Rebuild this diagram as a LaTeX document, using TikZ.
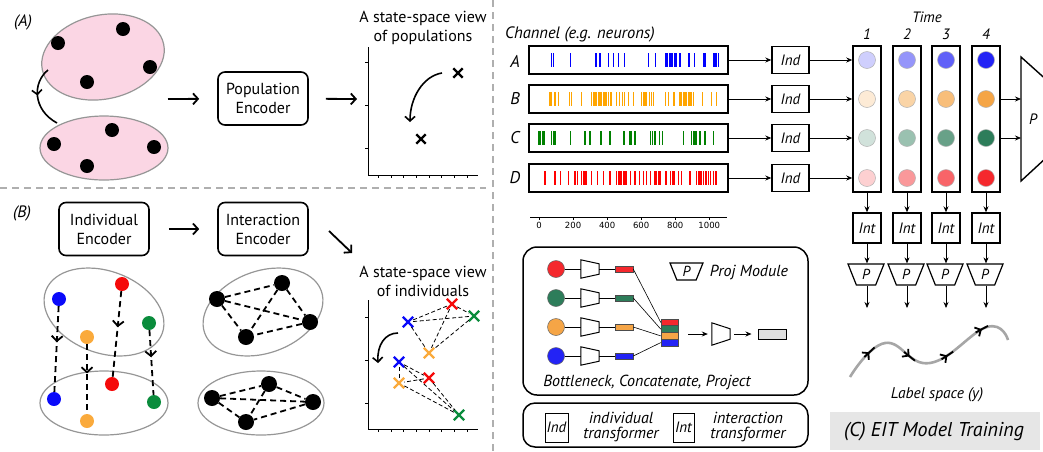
\documentclass[tikz,border=0pt]{standalone}
\usepackage{fontspec}
\setmainfont{PT Sans}
\newfontfamily\plotfont{DejaVu Sans}
\usetikzlibrary{arrows.meta,shapes.geometric,shapes.misc,decorations.markings}

\definecolor{popfill}{RGB}{251,214,228}
\definecolor{rimgray}{RGB}{150,150,150}
\definecolor{sepgray}{RGB}{175,175,175}
\definecolor{nblue}{RGB}{10,10,250}
\definecolor{nred}{RGB}{245,10,10}
\definecolor{ngreen}{RGB}{10,140,60}
\definecolor{norange}{RGB}{250,170,60}
\definecolor{spkblue}{RGB}{0,0,255}
\definecolor{spkorange}{RGB}{255,165,0}
\definecolor{spkgreen}{RGB}{0,128,0}
\definecolor{spkred}{RGB}{255,0,0}
\definecolor{tblue}{RGB}{35,35,245}
\definecolor{torange}{RGB}{245,165,70}
\definecolor{tgreen}{RGB}{45,125,90}
\definecolor{tred}{RGB}{245,40,45}
\definecolor{panelgray}{RGB}{230,230,230}

% one black step along the label-space curve
\newcommand{\labeltick}{\draw[black, line width=1.8pt] (-7pt,0pt) -- (7pt,0pt); \arrow[black, line width=1.8pt]{Straight Barb[length=4.5pt,width=10pt]}}

\begin{document}
\begin{tikzpicture}[x=1pt,y=-1pt]
    % Define styles
    \tikzstyle{encoder}=[rectangle, draw, line width=1.6pt, rounded corners=7pt, minimum width=90pt, minimum height=53pt, align=center, font=\fontsize{16}{19}\selectfont]
    \tikzstyle{caption}=[align=center, font=\fontsize{16}{19}\selectfont]
    \tikzstyle{panel}=[font=\itshape\fontsize{16.5}{18}\selectfont]
    \tikzstyle{bigarrow}=[line width=1.8pt, -{Straight Barb[length=5pt,width=11pt]}]
    \tikzstyle{pop}=[ellipse, draw=rimgray, line width=1.2pt, fill=popfill, inner sep=0pt]
    \tikzstyle{group}=[ellipse, draw=rimgray, line width=1.2pt, inner sep=0pt]
    \tikzstyle{dot}=[circle, fill, inner sep=0pt, minimum size=14pt]
    \tikzstyle{xmark}=[cross out, draw, line width=2.4pt, inner sep=0pt, minimum size=7pt]
    \tikzstyle{axis}=[line width=0.8pt]
    \tikzstyle{flow}=[line width=1.8pt, dash pattern=on 6pt off 4pt, postaction={decorate}, decoration={markings, mark=at position 0.42 with {\arrow{Straight Barb[length=5pt,width=11pt]}}}]
    \tikzstyle{link}=[line width=1.8pt, dash pattern=on 6pt off 4pt]
    \tikzstyle{thinlink}=[line width=0.8pt, dash pattern=on 4pt off 2.5pt]
    \tikzstyle{swing}=[line width=1.6pt, -{Straight Barb[length=4.5pt,width=10pt]}]
    \tikzstyle{swingmid}=[line width=1.6pt, postaction={decorate}, decoration={markings, mark=at position 0.45 with {\arrow{Straight Barb[length=4.5pt,width=10pt]}}}]
    \tikzstyle{separator}=[draw=sepgray, line width=1.5pt, dash pattern=on 7pt off 5pt]
    \tikzstyle{raster}=[rectangle, draw, line width=1.6pt, minimum width=199pt, minimum height=28pt, inner sep=0pt]
    \tikzstyle{spike}=[line width=1.3pt]
    \tikzstyle{chan}=[font=\itshape\fontsize{17}{18}\selectfont]
    \tikzstyle{tbox}=[rectangle, draw, line width=1.4pt, minimum width=37pt, minimum height=27pt, inner sep=0pt, font=\itshape\fontsize{15}{16}\selectfont]
    \tikzstyle{tcol}=[rectangle, draw, line width=1.5pt, minimum width=28pt, minimum height=146pt, inner sep=0pt]
    \tikzstyle{tnum}=[font=\itshape\fontsize{15}{16}\selectfont]
    \tikzstyle{emb}=[circle, draw=gray!60, line width=0.5pt, minimum size=17pt, inner sep=0pt]
    \tikzstyle{proj}=[trapezium, draw, line width=1.2pt, trapezium angle=72, trapezium stretches=true, minimum width=36pt, minimum height=21pt, shape border rotate=180, inner sep=0pt, font=\itshape\fontsize{14.5}{15}\selectfont]
    \tikzstyle{squeeze}=[rectangle, inner sep=0pt, minimum width=18pt, minimum height=18pt]
    \tikzstyle{code}=[rectangle, draw=black!70, line width=0.5pt, minimum width=18pt, minimum height=6pt, inner sep=0pt]
    \tikzstyle{seg}=[rectangle, draw=black!70, line width=0.5pt, minimum width=17pt, minimum height=6.75pt, inner sep=0pt]
    \tikzstyle{wire}=[line width=0.6pt]
    \tikzstyle{thinarrow}=[line width=0.8pt, -{Stealth[length=6pt,width=5pt]}]
    \tikzstyle{note}=[align=center, font=\itshape\fontsize{16}{14.5}\selectfont]
    \tikzstyle{holder}=[rectangle, draw, line width=1.5pt, rounded corners=14pt, inner sep=0pt]
    \tikzstyle{trail}=[draw=gray!70, line width=2.6pt, postaction={decorate}, decoration={markings, mark=at position 0.16 with {\labeltick}, mark=at position 0.40 with {\labeltick}, mark=at position 0.61 with {\labeltick}, mark=at position 0.83 with {\labeltick}}]

    \useasboundingbox (0,0) rectangle (1043,451);

    % Panel separators
    \coordinate (sepL) at (0,188);
    \coordinate (sepR) at (486,188);
    \coordinate (sepT) at (493,0);
    \coordinate (sepB) at (493,451);
    \draw[separator] (sepL) -- (sepR);
    \draw[separator] (sepT) -- (sepB);

    % (A) Population view
    \node[panel] (lblA) at (23,22) {(A)};
    \node[pop, minimum width=124pt, minimum height=84pt, rotate=12] (popT) at (103,57) {};
    \node[pop, minimum width=128pt, minimum height=64pt] (popB) at (104,148) {};
    \node[dot] (pa1) at (58,43) {};
    \node[dot] (pa2) at (123,29) {};
    \node[dot] (pa3) at (150,67) {};
    \node[dot] (pa4) at (87,82) {};
    \node[dot] (pb1) at (54,144) {};
    \node[dot] (pb2) at (112,130) {};
    \node[dot] (pb3) at (154,147) {};
    \node[dot] (pb4) at (87,166) {};
    \coordinate (ta1) at (48,70);
    \coordinate (ta2) at (57,123);
    \draw[swingmid] (ta1) .. controls (32,83) and (33,110) .. (ta2);

    % Population Encoder
    \coordinate (popR) at (168,99);
    \node[encoder] (penc) at (263,98.5) {Population\\Encoder};
    \draw[bigarrow, shorten >=18pt] (popR) -- (penc);
    \coordinate (plotA) at (357,99);
    \draw[bigarrow, shorten <=17pt] (penc) -- (plotA);

    % State-space view of populations
    \node[caption] (capA) at (423,27.5) {A state-space view\\of populations};
    \coordinate (oA) at (368,175);
    \draw[axis] (368,47) -- (oA) -- (478,175);
    \foreach \y in {62,105,148} \draw[axis] (368,\y) -- (365,\y);
    \foreach \x in {378,391,403,416,429,441,454,467} \draw[axis] (\x,175) -- (\x,178);
    \node[xmark] (xa1) at (458,73) {};
    \node[xmark] (xa2) at (421,139) {};
    \coordinate (sa1) at (442,73);
    \coordinate (sa2) at (410,122);
    \draw[swing] (sa1) .. controls (423,76) and (410,98) .. (sa2);

    % (B) Individual view
    \node[panel] (lblB) at (22,213) {(B)};
    \node[encoder] (ienc) at (104,229) {Individual\\Encoder};
    \node[encoder] (kenc) at (263,229) {Interaction\\Encoder};
    \draw[bigarrow, shorten <=19pt, shorten >=18pt] (ienc) -- (kenc);
    \coordinate (dg1) at (329,231);
    \coordinate (dg2) at (352,253);
    \draw[bigarrow] (dg1) -- (dg2);

    % Individuals before and after
    \node[group, minimum width=124pt, minimum height=82pt, rotate=-20] (indT) at (104,312) {};
    \node[group, minimum width=128pt, minimum height=64pt] (indB) at (104,403) {};
    \node[dot, fill=nblue] (ib1) at (59,299) {};
    \node[dot, fill=nred] (ir1) at (122,284) {};
    \node[dot, fill=ngreen] (ig1) at (149,323) {};
    \node[dot, fill=norange] (io1) at (87,337) {};
    \node[dot, fill=nblue] (ib2) at (54,399) {};
    \node[dot, fill=nred] (ir2) at (112,384) {};
    \node[dot, fill=ngreen] (ig2) at (154,402) {};
    \node[dot, fill=norange] (io2) at (87,421) {};
    \draw[flow] (ib1) -- (ib2);
    \draw[flow] (ir1) -- (ir2);
    \draw[flow] (ig1) -- (ig2);
    \draw[flow] (io1) -- (io2);

    % Interacting individuals
    \node[group, minimum width=124pt, minimum height=82pt, rotate=20] (intT) at (263,312) {};
    \node[group, minimum width=126pt, minimum height=64pt] (intB) at (261,403) {};
    \node[dot, minimum size=16pt] (k1) at (217,299) {};
    \node[dot, minimum size=16pt] (k2) at (282,283) {};
    \node[dot, minimum size=16pt] (k3) at (310,322) {};
    \node[dot, minimum size=16pt] (k4) at (246,337) {};
    \node[dot, minimum size=16pt] (m1) at (212,398) {};
    \node[dot, minimum size=16pt] (m2) at (269,384) {};
    \node[dot, minimum size=16pt] (m3) at (313,402) {};
    \node[dot, minimum size=16pt] (m4) at (246,422) {};
    \foreach \u/\v in {k1/k2,k1/k3,k1/k4,k2/k3,k2/k4,k3/k4,m1/m2,m1/m3,m1/m4,m2/m3,m2/m4,m3/m4}
        \draw[link] (\u) -- (\v);

    % State-space view of individuals
    \node[caption] (capB) at (423,281) {A state-space view\\of individuals};
    \coordinate (oB) at (368,429);
    \draw[axis] (368,300) -- (oB) -- (478,429);
    \foreach \y in {317,360,403} \draw[axis] (368,\y) -- (365,\y);
    \foreach \x in {378,391,403,416,429,441,454,467} \draw[axis] (\x,429) -- (\x,432);
    \node[xmark, draw=nblue, minimum size=8pt] (xb1) at (408,322) {};
    \node[xmark, draw=nred, minimum size=8pt] (xb2) at (452,304) {};
    \node[xmark, draw=ngreen, minimum size=8pt] (xb3) at (474,316) {};
    \node[xmark, draw=norange, minimum size=8pt] (xb4) at (429,353) {};
    \node[xmark, draw=nblue, minimum size=8pt] (xc1) at (399,362) {};
    \node[xmark, draw=nred, minimum size=8pt] (xc2) at (429,378) {};
    \node[xmark, draw=ngreen, minimum size=8pt] (xc3) at (459,415) {};
    \node[xmark, draw=norange, minimum size=8pt] (xc4) at (399,383) {};
    \foreach \u/\v in {xb1/xb2,xb1/xb3,xb1/xb4,xb2/xb3,xb2/xb4,xb3/xb4,xc1/xc2,xc1/xc3,xc1/xc4,xc2/xc3,xc2/xc4,xc3/xc4}
        \draw[thinlink] (\u) -- (\v);
    \coordinate (sb1) at (398,333);
    \coordinate (sb2) at (378,363);
    \draw[swing] (sb1) .. controls (385,333) and (377,345) .. (sb2);

    % (C) Channels
    \node[font=\itshape\fontsize{16.5}{18}\selectfont] (chanT) at (580,34) {Channel (e.g. neurons)};
    \node[chan] (lA) at (515,61) {A};
    \node[chan] (lB) at (515,99) {B};
    \node[chan] (lC) at (515,138) {C};
    \node[chan] (lD) at (515,178) {D};
    \node[raster] (rA) at (628.5,60) {};
    \node[raster] (rB) at (628.5,99) {};
    \node[raster] (rC) at (628.5,138) {};
    \node[raster] (rD) at (628.5,178) {};

    % Spike trains
    \foreach \t in {74,84,186,335,358,407,436,466,501,642,685,746,755,765,775,785,795,804,828,881,912,965,975,1023,1033,1043,1053}
        \draw[spike, spkblue] ({539+0.1703*\t},53) -- ++(0,14);
    \foreach \t in {65,74,94,114,178,192,250,309,319,329,339,352,364,378,387,397,407,423,456,472,489,501,524,554,603,613,622,632,648,661,671,744,759,793,828,838,847,857,867,877,887,896,906,961,1014,1043}
        \draw[spike, spkorange] ({539+0.1703*\t},92) -- ++(0,14);
    \foreach \t in {0,10,20,29,74,84,94,186,270,299,364,417,499,534,544,564,656,667,681,706,726,847,896,906,916,926,945,975,1023}
        \draw[spike, spkgreen] ({539+0.1703*\t},131) -- ++(0,14);
    \foreach \t in {35,94,127,172,211,225,250,260,270,280,309,342,378,417,456,466,476,485,495,505,515,538,564,589,613,632,656,681,691,701,710,746,773,783,793,818,838,887,926,936,945,955,965,980,994,1008,1023,1039}
        \draw[spike, spkred] ({539+0.1703*\t},171) -- ++(0,14);

    % Time axis of the spike trains
    \coordinate (ax1) at (530,217);
    \coordinate (ax2) at (727,217);
    \draw[line width=0.6pt] (ax1) -- (ax2);
    \foreach \k in {0,200,400,600,800,1000}
        \draw[line width=0.6pt] ({539+0.1703*\k},217) -- ++(0,3) node[below=0pt, inner sep=1.5pt, font=\plotfont\fontsize{8.5}{10}\selectfont] (tk\k) {\k};

    % Individual transformers
    \node[tbox] (iA) at (790.5,60) {Ind};
    \node[tbox] (iB) at (790.5,99) {Ind};
    \node[tbox] (iC) at (790.5,138) {Ind};
    \node[tbox] (iD) at (790.5,178) {Ind};
    \draw[thinarrow] (rA) -- (iA);
    \draw[thinarrow] (rB) -- (iB);
    \draw[thinarrow] (rC) -- (iC);
    \draw[thinarrow] (rD) -- (iD);

    % Time columns
    \node[font=\itshape\fontsize{15}{16}\selectfont] (timeT) at (927,17) {Time};
    \node[tcol] (t1) at (867,119) {};
    \node[tcol] (t2) at (907,119) {};
    \node[tcol] (t3) at (946,119) {};
    \node[tcol] (t4) at (986,119) {};
    \node[tnum] (h1) at (867,34) {1};
    \node[tnum] (h2) at (907,34) {2};
    \node[tnum] (h3) at (946,34) {3};
    \node[tnum] (h4) at (986,34) {4};
    \draw[thinarrow] (iA) -- (iA -| t1.west);
    \draw[thinarrow] (iB) -- (iB -| t1.west);
    \draw[thinarrow] (iC) -- (iC -| t1.west);
    \draw[thinarrow] (iD) -- (iD -| t1.west);

    % Embeddings, fading in over time
    \foreach \x/\k/\o in {867/1/22, 907/2/48, 946/3/72, 986/4/100} {
        \node[emb, fill=tblue!\o] (c\k1) at (\x,60) {};
        \node[emb, fill=torange!\o] (c\k2) at (\x,99) {};
        \node[emb, fill=tgreen!\o] (c\k3) at (\x,138) {};
        \node[emb, fill=tred!\o] (c\k4) at (\x,178) {};
    }

    % Big projection module
    \coordinate (pin) at (1021,119);
    \draw[line width=1.4pt] (1060,92) -- (1021,57) -- (1021,181) -- (1060,145);
    \node[font=\itshape\fontsize{15}{16}\selectfont] (bigP) at (1033,119) {P};
    \draw[thinarrow] (c42 -| t4.east) -- (c42 -| pin);
    \draw[thinarrow] (c43 -| t4.east) -- (c43 -| pin);

    % Interaction transformers and projections
    \node[tbox, minimum width=28pt, minimum height=30pt] (n1) at (867,228) {Int};
    \node[tbox, minimum width=28pt, minimum height=30pt] (n2) at (907,228) {Int};
    \node[tbox, minimum width=28pt, minimum height=30pt] (n3) at (946,228) {Int};
    \node[tbox, minimum width=28pt, minimum height=30pt] (n4) at (986,228) {Int};
    \node[proj] (q1) at (866,274.5) {P};
    \node[proj] (q2) at (906,274.5) {P};
    \node[proj] (q3) at (945,274.5) {P};
    \node[proj] (q4) at (985,274.5) {P};
    \coordinate (e1) at (867,308);
    \coordinate (e2) at (907,308);
    \coordinate (e3) at (946,308);
    \coordinate (e4) at (986,308);
    \draw[thinarrow] (t1) -- (n1);
    \draw[thinarrow] (t2) -- (n2);
    \draw[thinarrow] (t3) -- (n3);
    \draw[thinarrow] (t4) -- (n4);
    \draw[thinarrow] (n1) -- (n1 |- q1.north);
    \draw[thinarrow] (n2) -- (n2 |- q2.north);
    \draw[thinarrow] (n3) -- (n3 |- q3.north);
    \draw[thinarrow] (n4) -- (n4 |- q4.north);
    \draw[thinarrow] (n1 |- q1.south) -- (e1);
    \draw[thinarrow] (n2 |- q2.south) -- (e2);
    \draw[thinarrow] (n3 |- q3.south) -- (e3);
    \draw[thinarrow] (n4 |- q4.south) -- (e4);

    % Label space trajectory
    \draw[trail] plot[smooth, tension=0.75] coordinates {(850,377) (885,343) (930,363) (987,327) (1008,340)};
    \node[note, font=\itshape\fontsize{15.5}{16}\selectfont] (lspace) at (937,395) {Label space (y)};

    % Bottleneck, concatenate, project
    \node[holder, minimum width=285pt, minimum height=148pt] (bneck) at (665.5,321) {};
    \node[emb, draw=black!60, fill=tred] (bc1) at (556,269) {};
    \node[emb, draw=black!60, fill=tgreen] (bc2) at (556,298) {};
    \node[emb, draw=black!60, fill=torange] (bc3) at (556,327) {};
    \node[emb, draw=black!60, fill=tblue] (bc4) at (556,356) {};
    \node[squeeze] (bt1) at (590,269) {};
    \node[squeeze] (bt2) at (590,298) {};
    \node[squeeze] (bt3) at (590,327) {};
    \node[squeeze] (bt4) at (590,356) {};
    \node[squeeze, minimum height=22pt] (bt5) at (721,334) {};
    \foreach \b/\s in {bt1/4pt,bt2/4pt,bt3/4pt,bt4/4pt,bt5/6pt}
        \draw[line width=1pt] (\b.north west) -- (\b.south west) -- ([yshift=\s]\b.south east) -- ([yshift=-\s]\b.north east) -- cycle;
    \node[code, fill=tred] (br1) at (624,269) {};
    \node[code, fill=tgreen] (br2) at (624,298) {};
    \node[code, fill=torange] (br3) at (624,327) {};
    \node[code, fill=tblue] (br4) at (624,356) {};
    \draw[wire] (bc1) -- (bt1) -- (br1);
    \draw[wire] (bc2) -- (bt2) -- (br2);
    \draw[wire] (bc3) -- (bt3) -- (br3);
    \draw[wire] (bc4) -- (bt4) -- (br4);
    \node[seg, fill=tred] (s1) at (669.5,322.4) {};
    \node[seg, fill=tgreen] (s2) at (669.5,329.1) {};
    \node[seg, fill=torange] (s3) at (669.5,335.9) {};
    \node[seg, fill=tblue] (s4) at (669.5,342.6) {};
    \draw[wire] (br1.east) -- (s1.west);
    \draw[wire] (br2.east) -- (s2.west);
    \draw[wire] (br3.east) -- (s3.west);
    \draw[wire] (br4.east) -- (s4.west);
    \node[rectangle, draw, line width=1pt, fill=gray!25, minimum width=28pt, minimum height=10pt, inner sep=0pt] (out) at (772,334) {};
    \coordinate (cat) at (678,334);
    \draw[thinarrow, shorten <=10pt, shorten >=4pt] (cat) -- (bt5);
    \draw[thinarrow, shorten <=4pt, shorten >=6pt] (bt5) -- (out);
    \node[proj, trapezium angle=75, minimum width=33pt, minimum height=17pt] (lgP) at (686.5,271.5) {P};
    \node[note] (lgPt) at (749,272) {Proj Module};
    \node[note] (bnT) at (647,382) {Bottleneck, Concatenate, Project};

    % Legend of transformers
    \node[holder, rounded corners=12pt, minimum width=285pt, minimum height=44pt] (legend) at (665.5,425) {};
    \node[tbox, minimum width=23pt, minimum height=29pt, line width=1pt] (lgInd) at (556.5,427.5) {Ind};
    \node[note] (lgIndT) at (621,427) {individual\\transformer};
    \node[tbox, minimum width=21pt, minimum height=29pt, line width=1pt] (lgInt) at (683.5,427.5) {Int};
    \node[note] (lgIntT) at (748,427) {interaction\\transformer};

    % Panel title
    \fill[panelgray] (830,412) rectangle (1040,450);
    \node[font=\itshape\fontsize{20}{22}\selectfont] (titleC) at (934,432) {(C) EIT Model Training};
\end{tikzpicture}
\end{document}
